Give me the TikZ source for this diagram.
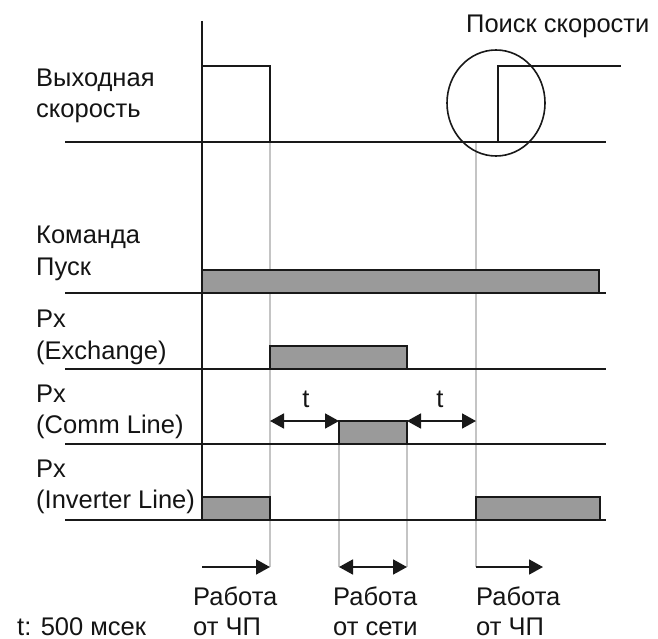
\documentclass[tikz,border=0pt]{standalone}
\usepackage{fontspec}
\setmainfont{Liberation Sans}
\usetikzlibrary{arrows.meta}
\definecolor{txt}{HTML}{141414}
\definecolor{barfill}{HTML}{9A9A9A}
\definecolor{guide}{HTML}{C4C4C4}
\tikzset{
  lbl/.style={anchor=base west,inner sep=0pt,text=txt,font=\fontsize{25.5}{30}\selectfont},
  lblc/.style={anchor=base,inner sep=0pt,text=txt,font=\fontsize{25.5}{30}\selectfont},
  baseln/.style={line width=2.6pt,black!90},
  axisln/.style={line width=2.6pt,black!90},
  pulse/.style={line width=1.6pt,black!90},
  bar/.style={fill=barfill,draw=black!90,line width=1.4pt},
  guideln/.style={guide,line width=1.2pt},
  dimarrow/.style={line width=1.8pt,black!90,{Triangle[length=14pt,width=15pt]}-{Triangle[length=14pt,width=15pt]}},
  onearrow/.style={line width=1.8pt,black!90,-{Triangle[length=14pt,width=15pt]}},
}
\begin{document}
\begin{tikzpicture}[x=1pt,y=-1pt]
\useasboundingbox[fill=white] (0,0) rectangle (658,639);
% guide lines
\draw[guideln] (270,142) -- (270,567);
\draw[guideln] (476,142) -- (476,567);
\draw[guideln] (339,444) -- (339,567);
\draw[guideln] (407,444) -- (407,567);
% bars
\draw[bar] (202,293) -- (202,270) -- (599,270) -- (599,293);
\draw[bar] (270,369) -- (270,346) -- (407,346) -- (407,369);
\draw[bar] (339,444) -- (339,421) -- (407,421) -- (407,444);
\draw[bar] (202,520) -- (202,497) -- (270,497) -- (270,520);
\draw[bar] (476,520) -- (476,497) -- (600,497) -- (600,520);
% baselines
\foreach \yy in {142,293,369,444,520} \draw[baseln] (65,\yy) -- (606,\yy);
% axis
\coordinate (axtop) at (202,21);
\coordinate (axbot) at (202,520);
\draw[axisln] (axtop) -- (axbot);
% speed pulses
\draw[pulse] (202,66) -- (270,66) -- (270,142);
\draw[pulse] (498,142) -- (498,66) -- (621,66);
\draw[pulse] (496,103) ellipse [x radius=49, y radius=53];
% arrows
\draw[dimarrow] (270,421) -- (339,421);
\draw[dimarrow] (407,421) -- (476,421);
\draw[onearrow] (202,567) -- (270,567);
\draw[dimarrow] (339,567) -- (407,567);
\draw[onearrow] (476,567) -- (543,567);
% labels
\node[lbl] (l1a) at (36,87) {Выходная};
\node[lbl] (l1b) at (36,118) {скорость};
\node[lbl] (l2a) at (36,243) {Команда};
\node[lbl] (l2b) at (36,275) {Пуск};
\node[lbl] (l3a) at (36,327) {Px};
\node[lbl] (l3b) at (36,359) {(Exchange)};
\node[lbl] (l4a) at (36,402) {Px};
\node[lbl] (l4b) at (36,433) {(Comm Line)};
\node[lbl] (l5a) at (36,477) {Px};
\node[lbl] (l5b) at (36,508) {(Inverter Line)};
\node[lbl] (srch) at (466,33) {Поиск скорости};
\node[lblc] (t1) at (306,407) {t};
\node[lblc] (t2) at (440,407) {t};
\node[lbl] (w1a) at (193,605) {Работа};
\node[lbl] (w1b) at (193,635) {от ЧП};
\node[lbl] (w2a) at (333,605) {Работа};
\node[lbl] (w2b) at (333,635) {от сети};
\node[lbl] (w3a) at (476,605) {Работа};
\node[lbl] (w3b) at (476,635) {от ЧП};
\node[lbl] (tnote) at (17,635) {t: 500 мсек};
\end{tikzpicture}
\end{document}
